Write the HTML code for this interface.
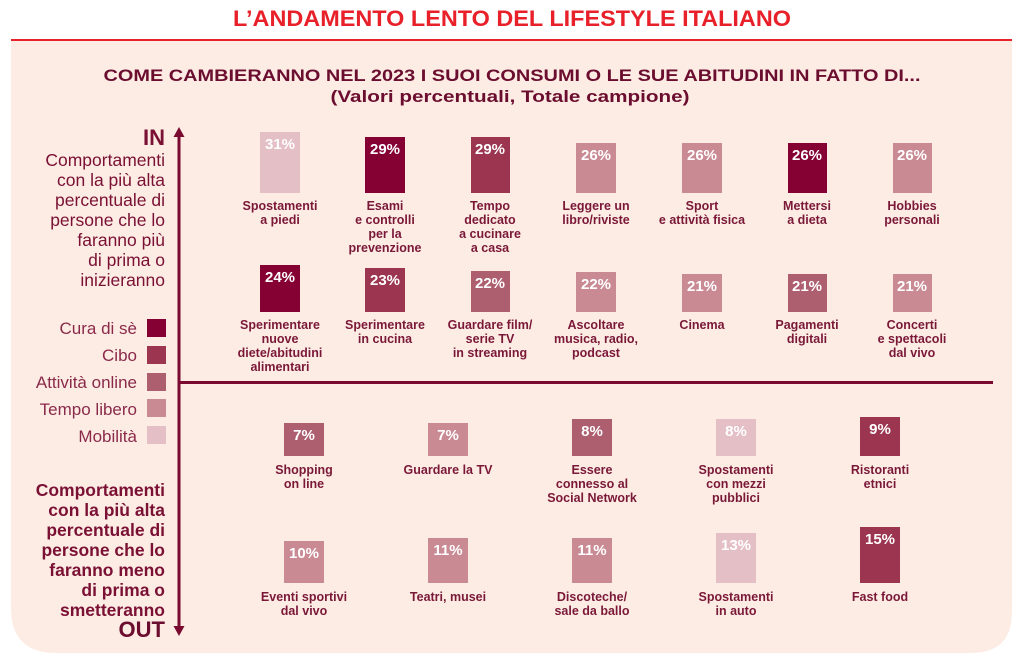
<!DOCTYPE html>
<html><head><meta charset="utf-8"><style>
html,body{margin:0;padding:0;background:#fff;}
svg{display:block;font-family:"Liberation Sans",sans-serif;}
.lab{font-size:12.5px;font-weight:bold;fill:#7a1838;text-anchor:middle;}
.pct{font-size:15px;font-weight:bold;fill:#fff;text-anchor:middle;}
.side{font-size:17.5px;fill:#7a1034;text-anchor:end;}
.leg{font-size:17px;fill:#8a2a4a;text-anchor:end;}
</style></head><body>
<svg width="1024" height="663" viewBox="0 0 1024 663">
<path d="M11 40 H1012 V612 Q1012 653 971 653 H56 Q11 653 11 608 Z" fill="#fdece4"/>
<rect x="11" y="39" width="1001" height="2" fill="#e8202a"/>
<text x="512" y="26" text-anchor="middle" font-size="22" font-weight="bold" fill="#e8202a" textLength="558" lengthAdjust="spacingAndGlyphs">L’ANDAMENTO LENTO DEL LIFESTYLE ITALIANO</text>
<text x="512" y="81" text-anchor="middle" font-size="17" font-weight="bold" fill="#6b0d2f" textLength="817" lengthAdjust="spacingAndGlyphs">COME CAMBIERANNO NEL 2023 I SUOI CONSUMI O LE SUE ABITUDINI IN FATTO DI...</text>
<text x="510" y="102" text-anchor="middle" font-size="17" font-weight="bold" fill="#6b0d2f" textLength="359" lengthAdjust="spacingAndGlyphs">(Valori percentuali, Totale campione)</text>

<!-- axes -->
<rect x="177.5" y="134" width="3" height="494" fill="#7a0a30"/>
<polygon points="179,127 173.5,137 184.5,137" fill="#7a0a30"/>
<polygon points="179,636 173.5,626 184.5,626" fill="#7a0a30"/>
<rect x="179" y="381" width="814" height="3" fill="#7a0a30"/>

<!-- left text -->
<text class="side" x="165" y="145" font-size="22" font-weight="bold" style="font-size:22px;font-weight:bold">IN</text>
<g class="side">
<text x="165" y="166">Comportamenti</text>
<text x="165" y="186">con la più alta</text>
<text x="165" y="206">percentuale di</text>
<text x="165" y="226">persone che lo</text>
<text x="165" y="246">faranno più</text>
<text x="165" y="266">di prima o</text>
<text x="165" y="286">inizieranno</text>
</g>
<g class="leg">
<text x="137" y="334">Cura di sè</text>
<text x="137" y="361">Cibo</text>
<text x="137" y="388">Attività online</text>
<text x="137" y="415">Tempo libero</text>
<text x="137" y="442">Mobilità</text>
</g>
<rect x="147" y="319" width="19" height="18" fill="#850033"/>
<rect x="147" y="346" width="19" height="18" fill="#9b3550"/>
<rect x="147" y="373" width="19" height="18" fill="#ad5e6f"/>
<rect x="147" y="399" width="19" height="18" fill="#c98a94"/>
<rect x="147" y="426" width="19" height="18" fill="#e5bfc6"/>
<g class="side" style="font-weight:bold">
<text x="165" y="496">Comportamenti</text>
<text x="165" y="516">con la più alta</text>
<text x="165" y="536">percentuale di</text>
<text x="165" y="556">persone che lo</text>
<text x="165" y="576">faranno meno</text>
<text x="165" y="596">di prima o</text>
<text x="165" y="616">smetteranno</text>
</g>
<text x="165" y="637" text-anchor="end" font-size="22" font-weight="bold" fill="#6b0d2f">OUT</text>

<!-- Row 1 -->
<rect x="260" y="132" width="40" height="61" fill="#e5bfc6"/><text class="pct" x="280" y="149">31%</text>
<rect x="365" y="137" width="40" height="56" fill="#850033"/><text class="pct" x="385" y="154">29%</text>
<rect x="471" y="137" width="39" height="56" fill="#9b3550"/><text class="pct" x="490" y="154">29%</text>
<rect x="576" y="143" width="40" height="50" fill="#c98a94"/><text class="pct" x="596" y="160">26%</text>
<rect x="682" y="143" width="40" height="50" fill="#c98a94"/><text class="pct" x="702" y="160">26%</text>
<rect x="788" y="143" width="39" height="50" fill="#850033"/><text class="pct" x="807" y="160">26%</text>
<rect x="893" y="143" width="39" height="50" fill="#c98a94"/><text class="pct" x="912" y="160">26%</text>
<g class="lab">
<text x="280" y="210">Spostamenti</text><text x="280" y="224">a piedi</text>
<text x="385" y="210">Esami</text><text x="385" y="224">e controlli</text><text x="385" y="238">per la</text><text x="385" y="252">prevenzione</text>
<text x="490" y="210">Tempo</text><text x="490" y="224">dedicato</text><text x="490" y="238">a cucinare</text><text x="490" y="252">a casa</text>
<text x="596" y="210">Leggere un</text><text x="596" y="224">libro/riviste</text>
<text x="702" y="210">Sport</text><text x="702" y="224">e attività fisica</text>
<text x="807" y="210">Mettersi</text><text x="807" y="224">a dieta</text>
<text x="912" y="210">Hobbies</text><text x="912" y="224">personali</text>
</g>

<!-- Row 2 -->
<rect x="260" y="265" width="40" height="47" fill="#850033"/><text class="pct" x="280" y="282">24%</text>
<rect x="365" y="268" width="40" height="44" fill="#9b3550"/><text class="pct" x="385" y="285">23%</text>
<rect x="471" y="271" width="39" height="41" fill="#ad5e6f"/><text class="pct" x="490" y="288">22%</text>
<rect x="576" y="272" width="40" height="40" fill="#c98a94"/><text class="pct" x="596" y="289">22%</text>
<rect x="682" y="274" width="40" height="38" fill="#c98a94"/><text class="pct" x="702" y="291">21%</text>
<rect x="788" y="274" width="39" height="38" fill="#ad5e6f"/><text class="pct" x="807" y="291">21%</text>
<rect x="893" y="274" width="39" height="38" fill="#c98a94"/><text class="pct" x="912" y="291">21%</text>
<g class="lab">
<text x="280" y="329">Sperimentare</text><text x="280" y="343">nuove</text><text x="280" y="357">diete/abitudini</text><text x="280" y="371">alimentari</text>
<text x="385" y="329">Sperimentare</text><text x="385" y="343">in cucina</text>
<text x="490" y="329">Guardare film/</text><text x="490" y="343">serie TV</text><text x="490" y="357">in streaming</text>
<text x="596" y="329">Ascoltare</text><text x="596" y="343">musica, radio,</text><text x="596" y="357">podcast</text>
<text x="702" y="329">Cinema</text>
<text x="807" y="329">Pagamenti</text><text x="807" y="343">digitali</text>
<text x="912" y="329">Concerti</text><text x="912" y="343">e spettacoli</text><text x="912" y="357">dal vivo</text>
</g>

<!-- Row 3 -->
<rect x="284" y="423" width="40" height="33" fill="#ad5e6f"/><text class="pct" x="304" y="440">7%</text>
<rect x="428" y="423" width="40" height="33" fill="#c98a94"/><text class="pct" x="448" y="440">7%</text>
<rect x="572" y="419" width="40" height="37" fill="#ad5e6f"/><text class="pct" x="592" y="436">8%</text>
<rect x="716" y="419" width="40" height="37" fill="#e5bfc6"/><text class="pct" x="736" y="436">8%</text>
<rect x="860" y="417" width="40" height="39" fill="#9b3550"/><text class="pct" x="880" y="434">9%</text>
<g class="lab">
<text x="304" y="474">Shopping</text><text x="304" y="488">on line</text>
<text x="448" y="474">Guardare la TV</text>
<text x="592" y="474">Essere</text><text x="592" y="488">connesso al</text><text x="592" y="502">Social Network</text>
<text x="736" y="474">Spostamenti</text><text x="736" y="488">con mezzi</text><text x="736" y="502">pubblici</text>
<text x="880" y="474">Ristoranti</text><text x="880" y="488">etnici</text>
</g>

<!-- Row 4 -->
<rect x="284" y="541" width="40" height="42" fill="#c98a94"/><text class="pct" x="304" y="558">10%</text>
<rect x="428" y="538" width="40" height="45" fill="#c98a94"/><text class="pct" x="448" y="555">11%</text>
<rect x="572" y="538" width="40" height="45" fill="#c98a94"/><text class="pct" x="592" y="555">11%</text>
<rect x="716" y="533" width="40" height="50" fill="#e5bfc6"/><text class="pct" x="736" y="550">13%</text>
<rect x="860" y="527" width="40" height="56" fill="#9b3550"/><text class="pct" x="880" y="544">15%</text>
<g class="lab">
<text x="304" y="601">Eventi sportivi</text><text x="304" y="615">dal vivo</text>
<text x="448" y="601">Teatri, musei</text>
<text x="592" y="601">Discoteche/</text><text x="592" y="615">sale da ballo</text>
<text x="736" y="601">Spostamenti</text><text x="736" y="615">in auto</text>
<text x="880" y="601">Fast food</text>
</g>
</svg>
</body></html>
